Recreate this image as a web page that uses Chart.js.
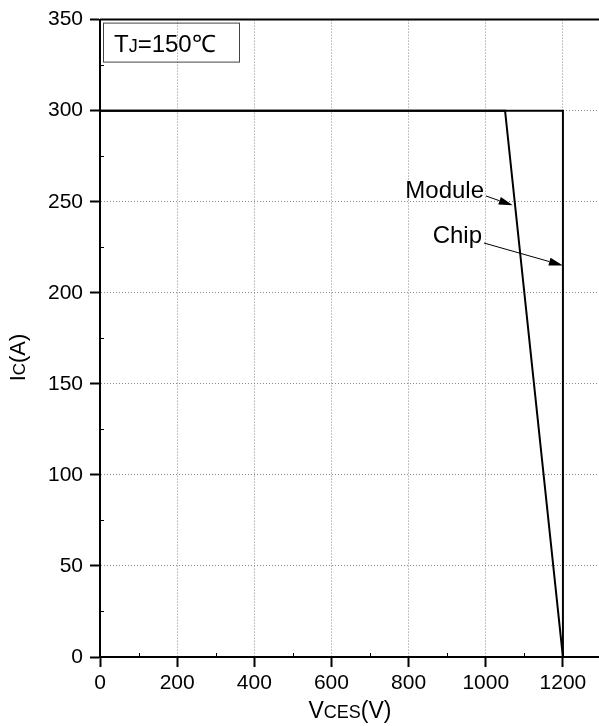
<!DOCTYPE html>
<html>
<head>
<meta charset="utf-8">
<script src="https://cdn.jsdelivr.net/npm/chart.js@4/dist/chart.umd.min.js"></script>
<style>
  html, body { margin: 0; padding: 0; overflow: hidden; background: #fff; }
  canvas { display: block; }
</style>
</head>
<body>
<canvas id="soa" width="603" height="726"></canvas>
<script>
// Reverse-bias safe operating area, Tj = 150 °C
const chipV   = [0, 1200, 1200];
const chipI   = [300, 300, 0];
const moduleV = [0, 1050, 1200];
const moduleI = [300, 300, 0];

const xTicks = [0, 200, 400, 600, 800, 1000, 1200];
const yTicks = [0, 50, 100, 150, 200, 250, 300, 350];
const xMinor = [100, 300, 500, 700, 900, 1100];
const yMinor = [25, 75, 125, 175, 225, 275, 325];

// callout labels and the curve points they point at (V, A)
const calloutText = ['Module', 'Chip'];
const calloutTipV = [1070, 1200];
const calloutTipI = [248, 215];

const FONT = '"Liberation Sans", Arial, Helvetica, sans-serif';

// draw a run of text pieces with individual sizes, left to right from (x, y) baseline
function drawRuns(ctx, runs, x, y) {
  let cx = x;
  for (const r of runs) {
    ctx.font = r.size + 'px ' + FONT;
    ctx.fillText(r.text, cx, y);
    cx += ctx.measureText(r.text).width;
  }
  return cx - x;
}
function runsWidth(ctx, runs) {
  let w = 0;
  for (const r of runs) {
    ctx.font = r.size + 'px ' + FONT;
    w += ctx.measureText(r.text).width;
  }
  return w;
}

function arrow(ctx, x0, y0, x1, y1) {
  const ang = Math.atan2(y1 - y0, x1 - x0);
  const len = 14, half = 4;
  const bx = x1 - len * Math.cos(ang), by = y1 - len * Math.sin(ang);
  ctx.beginPath();
  ctx.moveTo(x0, y0);
  ctx.lineTo(bx, by);
  ctx.lineWidth = 1;
  ctx.strokeStyle = '#000';
  ctx.stroke();
  ctx.beginPath();
  ctx.moveTo(x1, y1);
  ctx.lineTo(bx - half * Math.sin(ang), by + half * Math.cos(ang));
  ctx.lineTo(bx + half * Math.sin(ang), by - half * Math.cos(ang));
  ctx.closePath();
  ctx.fillStyle = '#000';
  ctx.fill();
}

const decorations = {
  id: 'decorations',
  afterDraw(chart) {
    const {ctx, chartArea: a, scales: {x, y}} = chart;
    ctx.save();

    // closing frame (top and right edges)
    ctx.strokeStyle = '#000';
    ctx.lineWidth = 2;
    ctx.beginPath();
    ctx.moveTo(a.left, a.top);
    ctx.lineTo(a.right, a.top);
    ctx.lineTo(a.right, a.bottom);
    ctx.stroke();

    // minor ticks, pointing into the plot
    ctx.lineWidth = 1;
    ctx.beginPath();
    for (const v of xMinor) {
      const px = Math.round(x.getPixelForValue(v)) + 0.5;
      ctx.moveTo(px, a.bottom);
      ctx.lineTo(px, a.bottom - 4);
    }
    for (const v of yMinor) {
      const py = Math.round(y.getPixelForValue(v)) + 0.5;
      ctx.moveTo(a.left, py);
      ctx.lineTo(a.left + 4, py);
    }
    ctx.stroke();

    // temperature box
    ctx.strokeStyle = '#444';
    ctx.lineWidth = 1;
    ctx.strokeRect(a.left + 3.5, a.top + 3.5, 136, 39);
    ctx.fillStyle = '#000';
    ctx.textBaseline = 'alphabetic';
    ctx.textAlign = 'left';
    drawRuns(ctx, [
      {text: 'T', size: 24},
      {text: 'J', size: 18},
      {text: '=150\u2103', size: 24}
    ], a.left + 14, a.top + 32);

    // callouts
    const textAnchor = [
      {right: 484, base: 198, fromX: 486, fromY: 196},
      {right: 482, base: 243, fromX: 484, fromY: 243}
    ];
    ctx.font = '24px ' + FONT;
    ctx.textAlign = 'right';
    calloutText.forEach((t, i) => {
      const an = textAnchor[i];
      ctx.fillText(t, an.right, an.base);
      arrow(ctx, an.fromX, an.fromY,
        x.getPixelForValue(calloutTipV[i]), y.getPixelForValue(calloutTipI[i]));
    });

    // axis titles
    ctx.textAlign = 'left';
    const xt = [
      {text: 'V', size: 23},
      {text: 'CES', size: 18},
      {text: '(V)', size: 23}
    ];
    const xw = runsWidth(ctx, xt);
    drawRuns(ctx, xt, 350 - xw / 2, 718);

    const yt = [
      {text: 'I', size: 22},
      {text: 'C', size: 17},
      {text: '(A)', size: 22}
    ];
    const yw = runsWidth(ctx, yt);
    ctx.translate(25, 357.5);
    ctx.rotate(-Math.PI / 2);
    drawRuns(ctx, yt, -yw / 2, 0);

    ctx.restore();
  }
};

const gridStyle = {
  color: '#8a8a8a',
  lineWidth: 1,
  tickColor: '#000',
  tickWidth: 2,
  tickLength: 10,
  tickBorderDash: []
};

new Chart(document.getElementById('soa'), {
  type: 'scatter',
  data: {
    datasets: [
      {
        label: 'Chip',
        data: chipV.map((v, i) => ({x: v, y: chipI[i]})),
        showLine: true,
        borderColor: '#000',
        borderWidth: 2,
        pointRadius: 0,
        tension: 0
      },
      {
        label: 'Module',
        data: moduleV.map((v, i) => ({x: v, y: moduleI[i]})),
        showLine: true,
        borderColor: '#000',
        borderWidth: 2,
        pointRadius: 0,
        tension: 0
      }
    ]
  },
  options: {
    responsive: false,
    animation: false,
    layout: {padding: {left: 0, top: 18, right: 1.5, bottom: 0}},
    plugins: {legend: {display: false}, tooltip: {enabled: false}},
    scales: {
      x: {
        type: 'linear',
        min: 0,
        max: 1300,
        afterBuildTicks: s => { s.ticks = xTicks.map(v => ({value: v})); },
        afterFit: s => { s.height = 69; },
        grid: gridStyle,
        border: {color: '#000', width: 2, dash: [1, 2]},
        ticks: {
          color: '#000',
          font: {family: FONT, size: 21},
          padding: 4,
          maxRotation: 0,
          callback: v => String(v)
        }
      },
      y: {
        type: 'linear',
        min: 0,
        max: 350,
        afterBuildTicks: s => { s.ticks = yTicks.map(v => ({value: v})); },
        afterFit: s => { s.width = 100; },
        grid: gridStyle,
        border: {color: '#000', width: 2, dash: [1, 2]},
        ticks: {
          color: '#000',
          font: {family: FONT, size: 21},
          padding: 7,
          callback: v => String(v)
        }
      }
    }
  },
  plugins: [decorations]
});
</script>
</body>
</html>
